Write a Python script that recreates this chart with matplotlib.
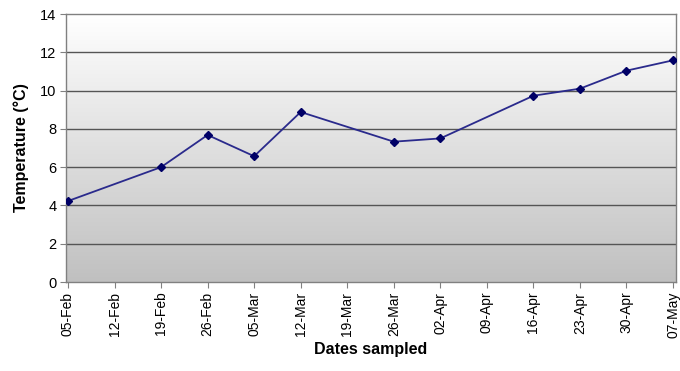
import matplotlib
matplotlib.use("Agg")
import matplotlib.pyplot as plt
import matplotlib.dates as mdates
import numpy as np
from matplotlib.colors import LinearSegmentedColormap

plt.rcParams['font.family'] = ['Liberation Sans', 'DejaVu Sans']

sample_dates = ["2007-02-05", "2007-02-19", "2007-02-26", "2007-03-05", "2007-03-12",
                "2007-03-26", "2007-04-02", "2007-04-16", "2007-04-23", "2007-04-30",
                "2007-05-07"]
temperatures = [4.23, 6.0, 7.68, 6.57, 8.88, 7.33, 7.5, 9.73, 10.1, 11.04, 11.58]
tick_start = "2007-02-05"
n_ticks = 14
y_ticks = [0, 2, 4, 6, 8, 10, 12, 14]

x = [mdates.datestr2num(d) for d in sample_dates]
t0 = mdates.datestr2num(tick_start)
xt = [t0 + 7 * i for i in range(n_ticks)]

fig = plt.figure(figsize=(6.8, 3.71), dpi=100)
ax = fig.add_axes([66/680, 89/371, 610/680, 268/371])

xmin, xmax = xt[0] - 0.3, xt[-1] + 0.45
ax.set_xlim(xmin, xmax)
ax.set_ylim(0, 14)

grad = np.linspace(0, 1, 256).reshape(-1, 1)
cmap = LinearSegmentedColormap.from_list("g", ["#c0c0c0", "#ffffff"])
ax.imshow(grad, extent=[xmin, xmax, 0, 14], aspect='auto', cmap=cmap, origin='lower', zorder=0)

for yv in y_ticks[1:-1]:
    ax.axhline(yv, color='#555555', lw=1.0, zorder=1)

ax.plot(x, temperatures, color='#2a2a8c', lw=1.3, marker='D', markersize=4.5,
        markerfacecolor='#000066', markeredgecolor='#000066', zorder=3)

ax.set_xticks(xt)
ax.set_xticklabels([mdates.num2date(v).strftime('%d-%b') for v in xt], rotation=90, fontsize=10)
ax.set_yticks(y_ticks)
ax.set_yticklabels([str(v) for v in y_ticks], fontsize=10.5)
ax.tick_params(direction='out', length=4, color='#808080', pad=3)

for s in ax.spines.values():
    s.set_color('#808080')
    s.set_linewidth(1.0)

ax.set_xlabel('Dates sampled', fontsize=11.5, fontweight='bold', labelpad=3)
ax.set_ylabel('Temperature (°C)', fontsize=11.5, fontweight='bold', labelpad=8)

fig.savefig('out.png', dpi=100)
